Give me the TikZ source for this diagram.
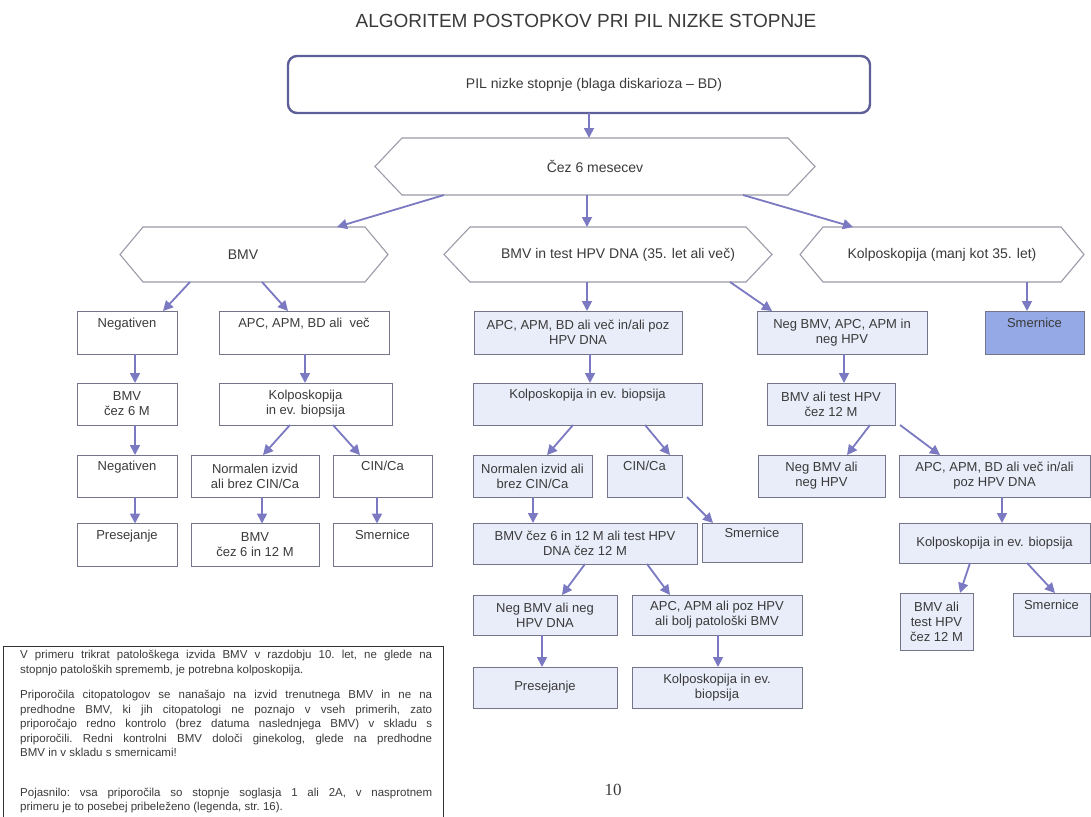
\documentclass[tikz,border=0pt]{standalone}
\usepackage{fontspec}
\setmainfont{Liberation Sans}
\newfontfamily\serifnum{Liberation Serif}
\usetikzlibrary{arrows.meta}
\definecolor{arrc}{HTML}{7B79C1}
\definecolor{boxc}{HTML}{74748A}
\definecolor{hexc}{HTML}{9A9AA8}
\definecolor{mainc}{HTML}{5E5E98}
\definecolor{lightf}{HTML}{E9EDF9}
\definecolor{darkf}{HTML}{95A9E6}
\definecolor{txt}{HTML}{3A3A3A}
\newcommand\hexout[2]{\draw[hexl] (#1.west) -- ([xshift=#2]#1.north west) -- ([xshift=-#2]#1.north east) -- (#1.east) -- ([xshift=-#2]#1.south east) -- ([xshift=#2]#1.south west) -- cycle;}
\tikzset{
  arr/.style={draw=arrc, line width=1.8pt, -{Triangle[length=10pt,width=10pt]}},
  box/.style={draw=boxc, line width=0.9pt, inner sep=0pt, outer sep=0pt, align=center, text=txt, font=\fontsize{13}{15}\selectfont},
  lbox/.style={box, fill=lightf},
  dbox/.style={box, fill=darkf},
  hexn/.style={inner sep=0pt, outer sep=0pt, text=txt, font=\fontsize{14}{16}\selectfont},
  hexl/.style={draw=hexc, line width=1.1pt},
}
\begin{document}
\begin{tikzpicture}[x=1pt,y=-1pt]
\useasboundingbox (0,0) rectangle (1091,816);
% title
\node[text=txt, font=\fontsize{19}{21}\selectfont] (title) at (586,21) {ALGORITEM POSTOPKOV PRI PIL NIZKE STOPNJE};
% main box
\node[draw=mainc, line width=2.4pt, rounded corners=9pt, minimum width=582pt, minimum height=57pt, inner sep=0pt, outer sep=0pt, text=txt, font=\fontsize{14}{16}\selectfont] (main) at (579,84.5) {\hspace*{30pt}PIL nizke stopnje (blaga diskarioza -- BD)};
% hexagons
\node[hexn, minimum width=440pt, minimum height=57pt] (cez) at (595,166.5) {Čez 6 mesecev};
\hexout{cez}{27pt}
\node[hexn, minimum width=268pt, minimum height=55pt] (bmvhex) at (254,254.5) {BMV\hspace*{22pt}};
\hexout{bmvhex}{23pt}
\node[hexn, minimum width=328pt, minimum height=55pt] (testhex) at (608,254.5) {\hspace*{20pt}BMV in test HPV DNA (35. let ali več)};
\hexout{testhex}{26pt}
\node[hexn, minimum width=284pt, minimum height=55pt] (kolhex) at (942,254.5) {Kolposkopija (manj kot 35. let)};
\hexout{kolhex}{23pt}
% row 1
\node[box, minimum width=100pt, minimum height=43pt] (neg1) at (127,332.5) {Negativen\\\strut};
\node[box, minimum width=170pt, minimum height=43pt] (apc1) at (304,332.5) {APC, APM, BD ali\ \ več\\\strut};
\node[lbox, minimum width=208pt, minimum height=43pt] (apc2) at (578,332.5) {APC, APM, BD ali več in/ali poz\\HPV DNA};
\node[lbox, minimum width=170pt, minimum height=43pt] (negb) at (842,332.5) {Neg BMV, APC, APM in\\neg HPV};
\node[dbox, minimum width=99pt, minimum height=43pt] (smer1) at (1034.5,332.5) {Smernice\\\strut};
% row 2
\node[box, minimum width=100pt, minimum height=42pt] (bmv6) at (127,404) {BMV\\čez 6 M};
\node[box, minimum width=173pt, minimum height=42pt] (kolp1) at (305.5,404) {Kolposkopija\\in ev. biopsija};
\node[lbox, minimum width=229pt, minimum height=42pt] (kolp2) at (587.5,404) {Kolposkopija in ev. biopsija\\\strut};
\node[lbox, minimum width=128pt, minimum height=42pt] (bmv12) at (831,404) {BMV ali test HPV\\čez 12 M};
% row 3
\node[box, minimum width=100pt, minimum height=42pt] (neg2) at (127,476) {Negativen\\\strut};
\node[box, minimum width=128pt, minimum height=42pt] (norm1) at (255,476) {Normalen izvid\\ali brez CIN/Ca};
\node[box, minimum width=99pt, minimum height=42pt] (cin1) at (382.5,476) {CIN/Ca\\\strut};
\node[lbox, minimum width=119pt, minimum height=42pt] (norm2) at (532.5,476) {Normalen izvid ali\\brez CIN/Ca};
\node[lbox, minimum width=75pt, minimum height=42pt] (cin2) at (644.5,476) {CIN/Ca\\\strut};
\node[lbox, minimum width=127pt, minimum height=42pt] (negc) at (821.5,476) {Neg BMV ali\\neg HPV};
\node[lbox, minimum width=191pt, minimum height=42pt] (apc3) at (994.5,476) {APC, APM, BD ali več in/ali\\poz HPV DNA};
% row 4
\node[box, minimum width=100pt, minimum height=43pt] (pres1) at (127,545) {Presejanje\\\strut};
\node[box, minimum width=128pt, minimum height=43pt] (bmv612) at (255,545) {BMV\\čez 6 in 12 M};
\node[box, minimum width=99pt, minimum height=43pt] (smer2) at (382.5,545) {Smernice\\\strut};
\node[lbox, minimum width=224pt, minimum height=41pt] (bmvor) at (585,543.5) {BMV čez 6 in 12 M ali test HPV\\DNA čez 12 M};
\node[lbox, minimum width=100pt, minimum height=39pt] (smer3) at (752,542.5) {Smernice\\\strut};
\node[lbox, minimum width=191pt, minimum height=40pt] (kolp3) at (994.5,543) {Kolposkopija in ev. biopsija};
% row 5
\node[lbox, minimum width=144pt, minimum height=40pt] (negd) at (545,615) {Neg BMV ali neg\\HPV DNA};
\node[lbox, minimum width=170pt, minimum height=40pt] (apcd) at (717,615) {APC, APM ali poz HPV\\ali bolj patološki BMV};
\node[lbox, minimum width=73pt, minimum height=57pt] (bmvr) at (936.5,621.5) {BMV ali\\test HPV\\čez 12 M};
\node[lbox, minimum width=77pt, minimum height=43pt] (smer4) at (1051.5,614.5) {Smernice\\\strut};
% row 6
\node[lbox, minimum width=144pt, minimum height=41pt] (pres2) at (545,687.5) {Presejanje};
\node[lbox, minimum width=170pt, minimum height=41pt] (kolp4) at (717,687.5) {Kolposkopija in ev.\\biopsija};
% arrows
\draw[arr] ([xshift=10pt]main.south) -- ([xshift=10pt]main.south |- cez.north);
\draw[arr] ([xshift=-151pt]cez.south) -- ([xshift=83pt]bmvhex.north);
\draw[arr] ([xshift=-8pt]cez.south) -- ([xshift=-8pt]cez.south |- testhex.north);
\draw[arr] ([xshift=148pt]cez.south) -- ([xshift=-89pt]kolhex.north);
\draw[arr] ([xshift=-64pt]bmvhex.south) -- ([xshift=36pt]neg1.north);
\draw[arr] ([xshift=8pt]bmvhex.south) -- ([xshift=-16pt]apc1.north);
\draw[arr] ([xshift=-21pt]testhex.south) -- ([xshift=-21pt]testhex.south |- apc2.north);
\draw[arr] ([xshift=122pt]testhex.south) -- ([xshift=-70pt]negb.north);
\draw[arr] ([xshift=85pt]kolhex.south) -- ([xshift=85pt]kolhex.south |- smer1.north);
\draw[arr] ([xshift=8pt]neg1.south) -- ([xshift=8pt]bmv6.north);
\draw[arr] ([xshift=8pt]bmv6.south) -- ([xshift=8pt]neg2.north);
\draw[arr] ([xshift=8pt]neg2.south) -- ([xshift=8pt]pres1.north);
\draw[arr] ([xshift=1pt]apc1.south) -- ([xshift=1pt]apc1.south |- kolp1.north);
\draw[arr] ([xshift=-15.5pt]kolp1.south) -- ([xshift=8pt]norm1.north);
\draw[arr] ([xshift=27.5pt]kolp1.south) -- ([xshift=-22.5pt]cin1.north);
\draw[arr] ([xshift=7pt]norm1.south) -- ([xshift=7pt]bmv612.north);
\draw[arr] ([xshift=-5.5pt]cin1.south) -- ([xshift=-5.5pt]smer2.north);
\draw[arr] ([xshift=12pt]apc2.south) -- ([xshift=12pt]apc2.south |- kolp2.north);
\draw[arr] ([xshift=-14.5pt]kolp2.south) -- ([xshift=14.5pt]norm2.north);
\draw[arr] ([xshift=57.5pt]kolp2.south) -- ([xshift=25.5pt]cin2.north);
\draw[arr] ([xshift=0.5pt]norm2.south) -- ([xshift=0.5pt]norm2.south |- bmvor.north);
\draw[arr] ([xshift=42.5pt]cin2.south) -- ([xshift=-39pt]smer3.north);
\draw[arr] (bmvor.south) -- ([xshift=17pt]negd.north);
\draw[arr] ([xshift=62pt]bmvor.south) -- ([xshift=-47pt]apcd.north);
\draw[arr] ([xshift=-3pt]negd.south) -- ([xshift=-3pt]pres2.north);
\draw[arr] ([xshift=1pt]apcd.south) -- ([xshift=1pt]kolp4.north);
\draw[arr] ([xshift=2pt]negb.south) -- ([xshift=2pt]negb.south |- bmv12.north);
\draw[arr] ([xshift=39pt]bmv12.south) -- ([xshift=25.5pt]negc.north);
\draw[arr] ([xshift=69pt]bmv12.south) -- ([xshift=-54.5pt]apc3.north);
\draw[arr] ([xshift=7.5pt]apc3.south) -- ([xshift=7.5pt]kolp3.north);
\draw[arr] ([xshift=-24.5pt]kolp3.south) -- ([xshift=23.5pt]bmvr.north);
\draw[arr] ([xshift=32.5pt]kolp3.south) -- ([xshift=3.5pt]smer4.north);
% note box
\coordinate (nbl) at (3,830);
\coordinate (nbr) at (443,830);
\draw[black!80, line width=0.8pt] (nbl) -- (3,646) -- (443,646) -- (nbr);
\node[anchor=north west, inner sep=0pt, text width=412pt, align=justify, text=txt, font=\fontsize{11.5}{14.5}\selectfont] (note) at (20,650) {\frenchspacing\setlength{\parskip}{11pt}\setlength{\parindent}{0pt}%
V primeru trikrat patološkega izvida BMV v razdobju 10. let, ne glede na\linebreak
stopnjo patoloških sprememb, je potrebna kolposkopija.\par
Priporočila citopatologov se nanašajo na izvid trenutnega BMV in ne na\linebreak
predhodne BMV, ki jih citopatologi ne poznajo v vseh primerih, zato\linebreak
priporočajo redno kontrolo (brez datuma naslednjega BMV) v skladu s\linebreak
priporočili. Redni kontrolni BMV določi ginekolog, glede na predhodne\linebreak
BMV in v skladu s smernicami!\par\vspace*{14pt}
Pojasnilo: vsa priporočila so stopnje soglasja 1 ali 2A, v nasprotnem\linebreak
primeru je to posebej pribeleženo (legenda, str. 16).};
\node[text=txt, font=\serifnum\fontsize{17}{19}\selectfont] (page) at (613,790) {10};
\end{tikzpicture}
\end{document}
